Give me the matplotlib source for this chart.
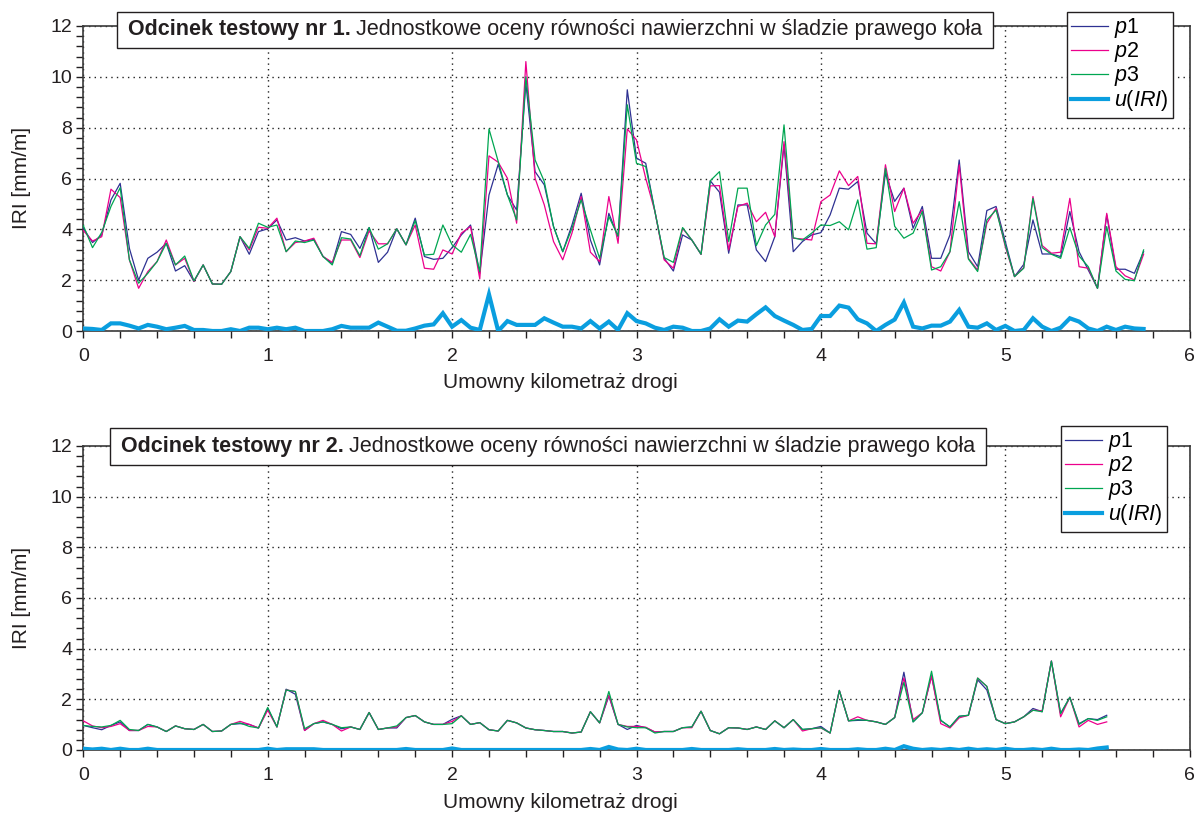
import numpy as np
import matplotlib
matplotlib.use("Agg")
import matplotlib.pyplot as plt
from matplotlib.ticker import MultipleLocator
from matplotlib.patches import Rectangle

plt.rcParams['font.family'] = ['Liberation Sans', 'DejaVu Sans']
plt.rcParams['mathtext.fontset'] = 'custom'
plt.rcParams['mathtext.rm'] = 'Liberation Sans'
plt.rcParams['mathtext.it'] = 'Liberation Sans:italic'
plt.rcParams['mathtext.bf'] = 'Liberation Sans:bold'

STEP_KM = 0.05

# ---------------- Section 1 ----------------
top_p1 = [4.05, 3.48, 3.78, 5.16, 5.81, 3.25, 2.0, 2.86, 3.1, 3.45,
          2.36, 2.57, 1.95, 2.6, 1.85, 1.84, 2.34, 3.71, 3.02, 3.91,
          4.02, 4.37, 3.58, 3.67, 3.54, 3.6, 2.93, 2.66, 3.91, 3.8,
          3.25, 4.07, 2.7, 3.1, 4.02, 3.39, 4.44, 2.93, 2.82, 2.86,
          3.28, 3.78, 4.17, 2.27, 5.35, 6.56, 5.35, 4.76, 9.75, 6.27,
          5.75, 4.11, 3.12, 4.17, 5.42, 3.58, 2.6, 4.63, 3.71, 9.49,
          6.8, 6.6, 4.7, 2.86, 2.36, 3.78, 3.58, 3.02, 5.91, 5.46,
          3.06, 4.96, 4.96, 3.19, 2.73, 3.71, 7.32, 3.12, 3.52, 3.78,
          3.87, 4.57, 5.62, 5.58, 5.88, 3.85, 3.43, 6.2, 5.1, 5.62,
          4.04, 4.9, 2.86, 2.86, 3.78, 6.73, 3.12, 2.53, 4.74, 4.9,
          3.52, 2.14, 2.62, 4.37, 3.03, 3.03, 2.93, 4.7, 3.12, 2.4,
          1.68, 4.57, 2.43, 2.43, 2.27, 3.12]
top_p2 = [3.95, 3.54, 3.71, 5.58, 5.25, 2.8, 1.68, 2.34, 2.73, 3.58,
          2.6, 2.86, 1.95, 2.6, 1.85, 1.84, 2.34, 3.71, 3.19, 4.08,
          4.04, 4.44, 3.12, 3.48, 3.54, 3.65, 2.93, 2.7, 3.58, 3.58,
          2.89, 3.94, 3.43, 3.43, 4.02, 3.39, 4.17, 2.47, 2.43, 3.19,
          3.03, 3.85, 4.11, 2.05, 6.89, 6.64, 6.01, 4.24, 10.6, 6.01,
          4.96, 3.52, 2.8, 3.85, 5.29, 3.1, 2.73, 5.29, 3.45, 7.95,
          7.52, 6.01, 4.7, 2.8, 2.47, 4.04, 3.58, 3.02, 5.71, 5.72,
          3.19, 4.9, 5.03, 4.3, 4.67, 3.71, 7.45, 3.65, 3.62, 3.58,
          5.09, 5.35, 6.3, 5.72, 6.08, 3.45, 3.43, 6.54, 4.7, 5.62,
          4.24, 4.76, 2.53, 2.36, 3.12, 6.54, 2.86, 2.4, 4.24, 4.83,
          3.32, 2.14, 2.49, 5.29, 3.36, 3.06, 3.1, 5.22, 2.53, 2.47,
          1.68, 4.63, 2.53, 2.17, 2.01, 3.02]
top_p3 = [4.15, 3.28, 3.88, 4.9, 5.64, 2.8, 1.88, 2.27, 2.73, 3.45,
          2.6, 2.95, 1.97, 2.6, 1.85, 1.84, 2.34, 3.71, 3.25, 4.24,
          4.08, 4.17, 3.12, 3.54, 3.48, 3.58, 2.93, 2.6, 3.67, 3.62,
          2.96, 4.07, 3.22, 3.43, 4.02, 3.39, 4.34, 2.99, 3.02, 4.17,
          3.39, 3.1, 3.8, 2.34, 7.95, 6.67, 5.35, 4.37, 10.0, 6.73,
          5.88, 4.11, 3.12, 4.04, 5.16, 3.98, 2.86, 4.5, 3.74, 8.9,
          6.6, 6.47, 4.7, 2.89, 2.7, 4.07, 3.58, 3.02, 5.91, 6.27,
          3.52, 5.62, 5.62, 3.36, 4.17, 4.59, 8.11, 3.67, 3.58, 3.85,
          4.17, 4.15, 4.3, 3.98, 5.16, 3.22, 3.28, 6.4, 4.12, 3.65,
          3.85, 4.7, 2.4, 2.53, 3.12, 5.09, 2.83, 2.34, 4.37, 4.76,
          3.39, 2.14, 2.47, 5.22, 3.28, 3.02, 2.86, 4.07, 2.95, 2.53,
          1.68, 4.11, 2.36, 2.03, 1.98, 3.19]
top_u = [0.1, 0.08, 0.04, 0.3, 0.3, 0.21, 0.1, 0.24, 0.17, 0.07,
         0.13, 0.2, 0.04, 0.04, 0.0, 0.0, 0.07, 0.0, 0.13, 0.13,
         0.07, 0.13, 0.07, 0.13, 0.0, 0.0, 0.0, 0.07, 0.2, 0.13,
         0.13, 0.13, 0.33, 0.17, 0.01, 0.01, 0.1, 0.21, 0.26, 0.7,
         0.17, 0.43, 0.13, 0.04, 1.44, 0.0, 0.39, 0.24, 0.24, 0.24,
         0.5, 0.33, 0.17, 0.17, 0.1, 0.39, 0.1, 0.37, 0.04, 0.7,
         0.39, 0.3, 0.13, 0.04, 0.17, 0.13, 0.0, 0.0, 0.1, 0.46,
         0.17, 0.41, 0.37, 0.66, 0.93, 0.59, 0.41, 0.24, 0.04, 0.08,
         0.59, 0.59, 1.0, 0.92, 0.46, 0.3, 0.0, 0.24, 0.45, 1.12,
         0.17, 0.1, 0.21, 0.21, 0.37, 0.83, 0.17, 0.13, 0.3, 0.04,
         0.2, 0.0, 0.04, 0.5, 0.17, 0.0, 0.13, 0.5, 0.37, 0.1,
         0.0, 0.17, 0.04, 0.17, 0.1, 0.08]

# ---------------- Section 2 ----------------
bot_p1 = [0.97, 0.88, 0.8, 0.97, 1.11, 0.77, 0.77, 1.01, 0.91, 0.73,
          0.95, 0.84, 0.81, 1.01, 0.73, 0.75, 1.01, 1.04, 1.01, 0.87,
          1.64, 0.91, 2.4, 2.2, 0.77, 1.04, 1.11, 1.01, 0.84, 0.91,
          0.81, 1.48, 0.81, 0.87, 0.87, 1.28, 1.36, 1.11, 1.01, 1.01,
          1.21, 1.35, 1.01, 1.08, 0.8, 0.75, 1.17, 1.07, 0.87, 0.8,
          0.77, 0.73, 0.73, 0.67, 0.71, 1.51, 1.07, 2.13, 1.01, 0.81,
          0.97, 0.88, 0.71, 0.73, 0.73, 0.88, 0.91, 1.53, 0.77, 0.64,
          0.88, 0.87, 0.81, 0.91, 0.81, 1.15, 0.88, 1.2, 0.81, 0.84,
          0.93, 0.67, 2.35, 1.15, 1.17, 1.17, 1.11, 1.01, 1.28, 3.07,
          1.11, 1.47, 2.93, 1.17, 0.91, 1.33, 1.37, 2.77, 2.37, 1.2,
          1.04, 1.11, 1.31, 1.64, 1.51, 3.51, 1.44, 2.08, 1.04, 1.24,
          1.2, 1.37]
bot_p2 = [1.15, 0.95, 0.88, 0.93, 1.04, 0.77, 0.77, 0.93, 0.91, 0.73,
          0.95, 0.84, 0.81, 1.01, 0.73, 0.75, 1.01, 1.13, 1.01, 0.87,
          1.57, 0.91, 2.37, 2.31, 0.77, 1.04, 1.17, 1.01, 0.75, 0.91,
          0.81, 1.48, 0.81, 0.87, 0.91, 1.28, 1.36, 1.11, 1.01, 1.01,
          1.13, 1.35, 1.01, 1.08, 0.8, 0.75, 1.17, 1.07, 0.87, 0.8,
          0.77, 0.73, 0.73, 0.67, 0.71, 1.51, 1.07, 2.17, 1.01, 0.93,
          0.93, 0.9, 0.71, 0.73, 0.73, 0.88, 0.88, 1.53, 0.77, 0.64,
          0.88, 0.87, 0.81, 0.91, 0.81, 1.15, 0.88, 1.2, 0.75, 0.84,
          0.87, 0.67, 2.35, 1.15, 1.31, 1.17, 1.11, 1.01, 1.28, 2.84,
          1.2, 1.47, 2.91, 1.04, 0.87, 1.27, 1.37, 2.84, 2.51, 1.2,
          1.04, 1.11, 1.31, 1.57, 1.55, 3.51, 1.31, 2.08, 0.91, 1.17,
          1.01, 1.11]
bot_p3 = [0.97, 0.93, 0.91, 0.97, 1.17, 0.81, 0.77, 1.01, 0.91, 0.73,
          0.95, 0.84, 0.81, 1.01, 0.73, 0.75, 1.01, 1.07, 0.93, 0.87,
          1.68, 0.91, 2.37, 2.31, 0.84, 1.04, 1.11, 1.01, 0.88, 0.91,
          0.81, 1.48, 0.81, 0.87, 0.95, 1.28, 1.36, 1.11, 1.01, 1.01,
          1.04, 1.35, 1.01, 1.08, 0.8, 0.75, 1.17, 1.07, 0.87, 0.8,
          0.77, 0.73, 0.73, 0.67, 0.71, 1.51, 1.07, 2.31, 1.01, 0.91,
          0.88, 0.88, 0.67, 0.73, 0.73, 0.88, 0.91, 1.53, 0.77, 0.64,
          0.88, 0.87, 0.81, 0.91, 0.81, 1.15, 0.88, 1.2, 0.81, 0.84,
          0.88, 0.67, 2.35, 1.15, 1.2, 1.17, 1.11, 1.01, 1.28, 2.67,
          1.11, 1.47, 3.11, 1.17, 0.91, 1.33, 1.37, 2.84, 2.51, 1.2,
          1.04, 1.11, 1.31, 1.57, 1.51, 3.51, 1.44, 2.08, 1.01, 1.24,
          1.17, 1.31]
bot_u = [0.05, 0.02, 0.05, 0.0, 0.05, 0.0, 0.0, 0.05, 0.0, 0.0,
         0.0, 0.0, 0.0, 0.0, 0.0, 0.0, 0.0, 0.0, 0.0, 0.0,
         0.05, 0.0, 0.03, 0.03, 0.03, 0.03, 0.0, 0.0, 0.0, 0.0,
         0.0, 0.0, 0.0, 0.0, 0.0, 0.04, 0.0, 0.0, 0.0, 0.0,
         0.06, 0.0, 0.0, 0.0, 0.0, 0.0, 0.0, 0.0, 0.0, 0.0,
         0.0, 0.0, 0.0, 0.0, 0.0, 0.04, 0.0, 0.12, 0.02, 0.0,
         0.05, 0.0, 0.0, 0.0, 0.0, 0.0, 0.04, 0.0, 0.0, 0.0,
         0.0, 0.03, 0.0, 0.0, 0.0, 0.04, 0.0, 0.02, 0.0, 0.0,
         0.04, 0.0, 0.0, 0.0, 0.03, 0.0, 0.0, 0.05, 0.0, 0.15,
         0.05, 0.0, 0.03, 0.0, 0.04, 0.0, 0.05, 0.0, 0.03, 0.0,
         0.05, 0.0, 0.0, 0.03, 0.0, 0.05, 0.0, 0.0, 0.02, 0.0,
         0.06, 0.1]

titles_bold = ["Odcinek testowy nr 1.", "Odcinek testowy nr 2."]
title_rest = "Jednostkowe oceny równości nawierzchni w śladzie prawego koła"
xlabel = "Umowny kilometraż drogi"
ylabel = "IRI [mm/m]"
legend_labels = [r"$\mathit{p}\mathrm{1}$", r"$\mathit{p}\mathrm{2}$",
                 r"$\mathit{p}\mathrm{3}$",
                 r"$\mathit{u}\mathrm{(}\mathit{IRI}\mathrm{)}$"]

C_P1 = '#2E3192'
C_P2 = '#EC008C'
C_P3 = '#00A651'
C_U = '#0A9EDF'
DARK = '#231F20'

W, H = 1197, 815
fig = plt.figure(figsize=(W / 100, H / 100), dpi=100)
renderer = fig.canvas.get_renderer()


def fx(px):
    return px / W


def fy(py):
    return 1 - py / H


sections = [
    dict(p=(top_p1, top_p2, top_p3), u=top_u, top=26, bottom=331,
         box=(117, 12, 48), leg=(1173, 12), xl_y=383, yl_y=178),
    dict(p=(bot_p1, bot_p2, bot_p3), u=bot_u, top=446, bottom=750,
         box=(110, 428, 465), leg=(1167, 426), xl_y=803, yl_y=598),
]

for k, s in enumerate(sections):
    left, right = 83.3, 1189.7
    ax = fig.add_axes([fx(left), fy(s['bottom']), fx(right - left),
                       (s['bottom'] - s['top']) / H])
    n = len(s['p'][0])
    km = np.arange(n) * STEP_KM
    lines = []
    for vals, col in zip(s['p'], (C_P1, C_P2, C_P3)):
        ln, = ax.plot(km, vals, color=col, lw=0.9, zorder=3)
        lines.append(ln)
    ln, = ax.plot(km, s['u'], color=C_U, lw=3.0, zorder=4,
                  solid_joinstyle='miter')
    lines.append(ln)

    ax.set_xlim(0, 6)
    ax.set_ylim(0, 12)
    ax.xaxis.set_major_locator(MultipleLocator(1))
    ax.xaxis.set_minor_locator(MultipleLocator(0.2))
    ax.yaxis.set_major_locator(MultipleLocator(2))
    ax.yaxis.set_minor_locator(MultipleLocator(0.4))
    ax.tick_params(which='both', direction='out', length=5, width=1,
                   color=DARK, labelsize=14, labelcolor=DARK)
    ax.tick_params(axis='x', pad=7)
    ax.tick_params(axis='y', pad=3)
    for sp in ax.spines.values():
        sp.set_color('#3a3a3a')
        sp.set_linewidth(1.2)
    ax.grid(True, which='major', color='#222222', lw=1.0,
            linestyle=(0, (1, 3)), zorder=1)

    fig.text(fx(22), fy(s['yl_y']), ylabel, rotation=90, ha='center',
             va='center', fontsize=15, color=DARK)
    fig.text(fx(560), fy(s['xl_y']), xlabel,
             ha='center', va='center', fontsize=15, color=DARK)

    # title box: bold part + regular part, framed
    bx0, by0, by1 = s['box']
    yc = (by0 + by1) / 2
    t1 = fig.text(fx(bx0 + 11), fy(yc), titles_bold[k], ha='left',
                  va='center', fontsize=15.5, fontweight='bold',
                  color=DARK, zorder=11)
    bb1 = t1.get_window_extent(renderer)
    space = 5
    t2 = fig.text((bb1.x1 + space) / W, fy(yc), title_rest, ha='left',
                  va='center', fontsize=15.5, color=DARK, zorder=11)
    bb2 = t2.get_window_extent(renderer)
    bx1 = bb2.x1 + 11
    rect = Rectangle((fx(bx0), fy(by1)), (bx1 - bx0) / W, (by1 - by0) / H,
                     transform=fig.transFigure, facecolor='white',
                     edgecolor=DARK, lw=1.0, zorder=10)
    fig.patches.append(rect)

    leg = ax.legend(lines, legend_labels, loc='upper right',
                    bbox_to_anchor=(fx(s['leg'][0]), fy(s['leg'][1])),
                    bbox_transform=fig.transFigure, borderaxespad=0,
                    fontsize=15.5, frameon=True, fancybox=False,
                    edgecolor=DARK, framealpha=1, handlelength=1.7,
                    handletextpad=0.3, labelspacing=0.0, borderpad=0.2)
    leg.get_frame().set_linewidth(1.0)
    leg.set_zorder(10)

fig.savefig("out.png", dpi=100)
